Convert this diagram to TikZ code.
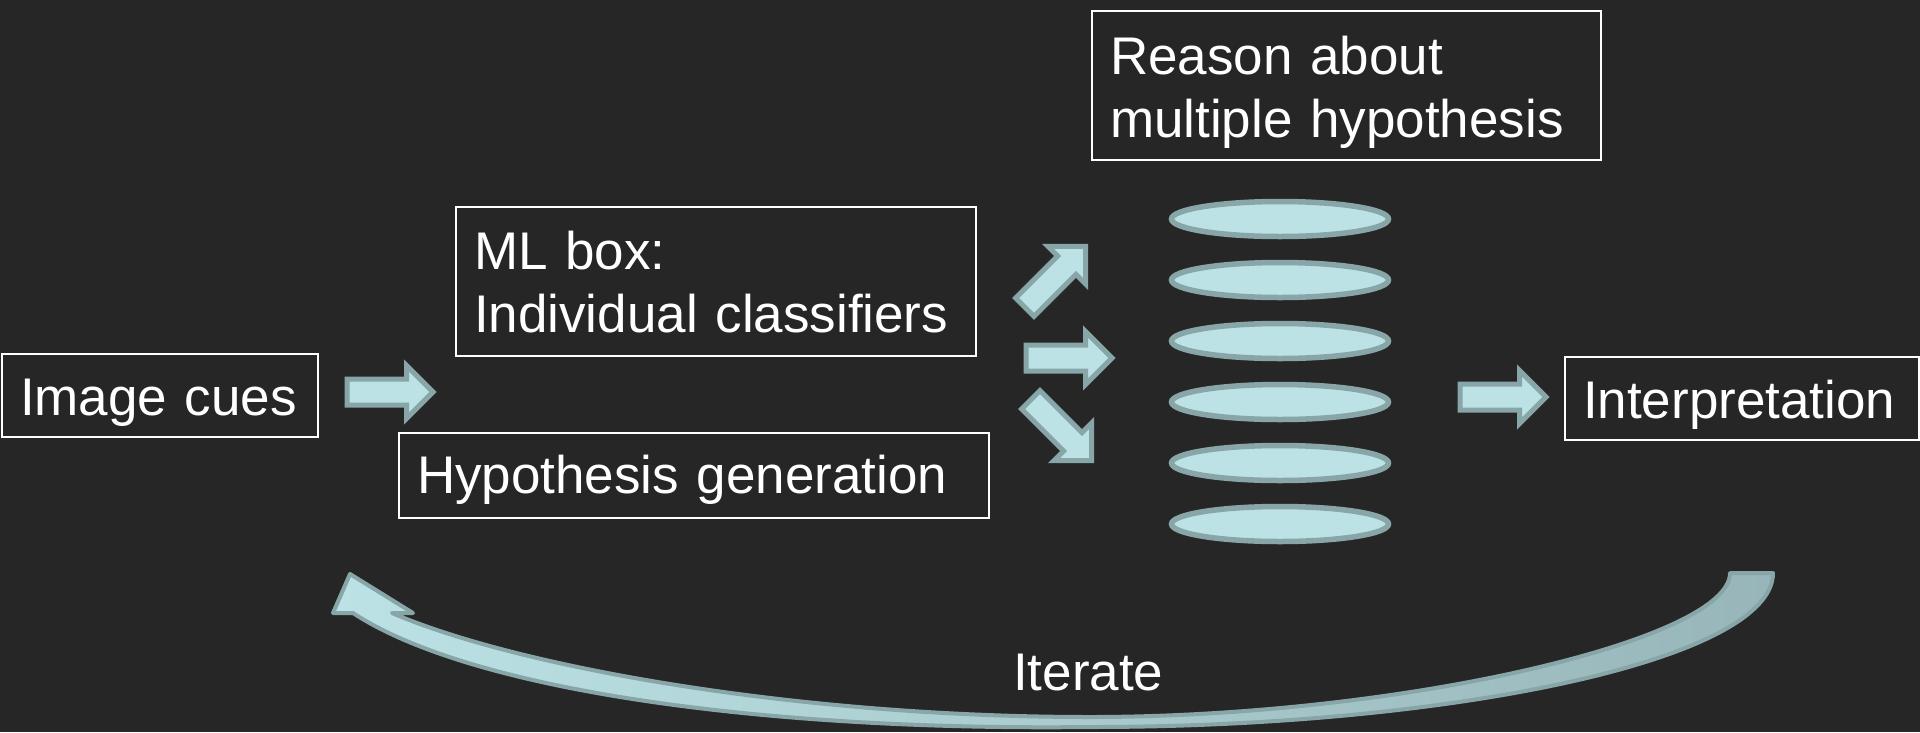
\documentclass[tikz,border=0pt]{standalone}
\usepackage{fontspec}
\setmainfont{Liberation Sans}
\usetikzlibrary{shapes.geometric,shapes.arrows}
\definecolor{bgc}{HTML}{262626}
\definecolor{afill}{HTML}{BCE2E5}
\definecolor{aborder}{HTML}{88A6A8}
\definecolor{agray}{HTML}{98B6B9}
\begin{document}
\begin{tikzpicture}[x=1pt,y=-1pt,
  every node/.style={font=\fontsize{53}{63}\selectfont, text=white},
  box/.style={draw=white, line width=2pt, rectangle, anchor=north west, align=left,
    inner ysep=0pt, inner xsep=18pt, text depth=0pt},
  blockarrow/.style={single arrow, draw=aborder, fill=afill, line width=5pt,
    minimum height=86pt, minimum width=48pt, inner sep=10.5pt,
    single arrow head extend=13.5pt, single arrow tip angle=90, anchor=tail},
  disk/.style={ellipse, draw=aborder, fill=afill, line width=5.5pt,
    minimum width=217pt, minimum height=35pt, inner sep=0pt},
  curvearrow/.style={draw=aborder, line width=4pt, line join=round,
    left color=afill, right color=agray}
]
\fill[bgc] (0,0) rectangle (1920,732);
\useasboundingbox (0,0) rectangle (1920,732);

% boxes
\node[box, minimum width=316pt, minimum height=83pt, text width=280pt, text height=39pt] (cues) at (1,353) {Image cues};
\node[box, minimum width=520pt, minimum height=149pt, text width=484pt, text height=0pt, text depth=25pt] (ml) at (455,206) {ML box:\\Individual classifiers};
\node[box, minimum width=590pt, minimum height=85pt, text width=554pt, text height=35pt] (hyp) at (398,432) {Hypothesis generation};
\node[box, minimum width=509pt, minimum height=149pt, text width=473pt, text height=0pt, text depth=23pt] (reason) at (1091,10) {Reason about\\multiple hypothesis};
\node[box, minimum width=354pt, minimum height=83pt, text width=318pt, text height=39pt] (interp) at (1564,356) {Interpretation};

% block arrows
\node[blockarrow] (a1) at (344.5,392) {};
\node[blockarrow, rotate=45] (a2) at (1023,309) {};
\node[blockarrow] (a3) at (1023.5,358) {};
\node[blockarrow, rotate=-45] (a4) at (1029,398) {};
\node[blockarrow] (a5) at (1457.5,397) {};

% stack of hypotheses
\foreach \i/\y in {1/219,2/280,3/341,4/402,5/463,6/524}
  \node[disk] (e\i) at (1280,\y) {};

% curved iterate arrow
\path[curvearrow] (1730,573) -- (1773,573)
  .. controls (1773,660) and (1450,727) .. (1090,727)
  .. controls (760,731) and (470,690) .. (353,613)
  -- (333,613) -- (350,574) -- (413,613) -- (392,613)
  .. controls (520,668) and (800,717) .. (1090,717)
  .. controls (1400,717) and (1730,640) .. (1730,573) -- cycle;
\node[anchor=base west, inner sep=0pt] (iter) at (1013,690) {Iterate};
\end{tikzpicture}
\end{document}
